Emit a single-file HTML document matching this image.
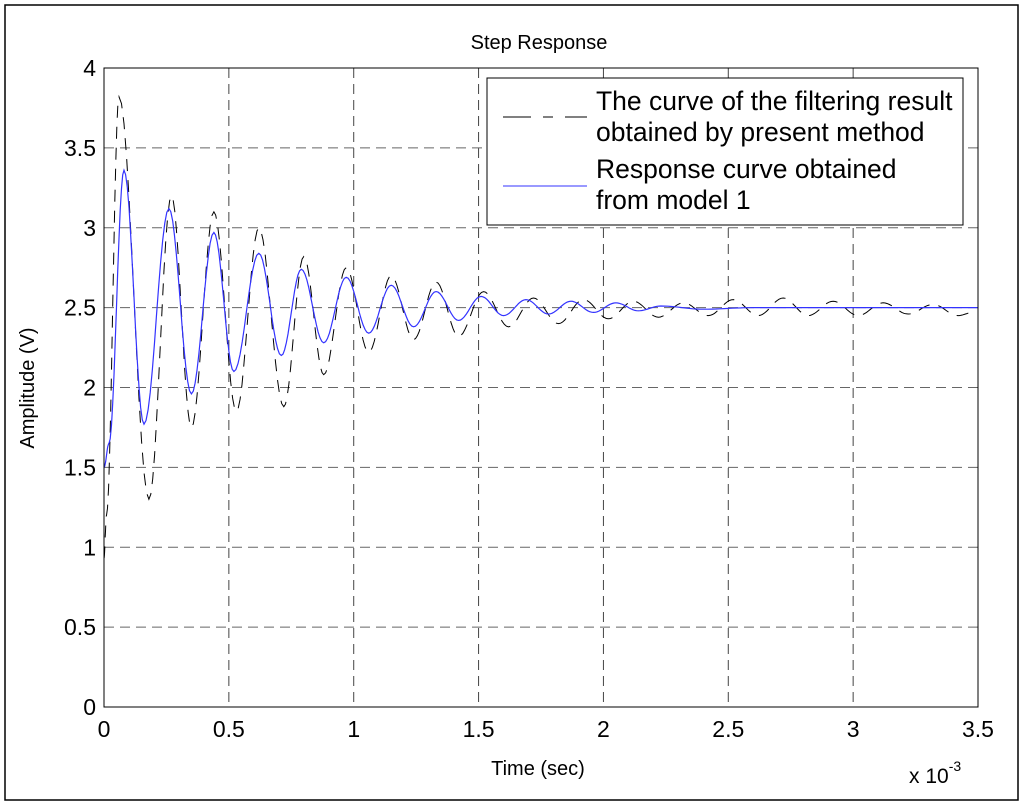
<!DOCTYPE html>
<html><head><meta charset="utf-8"><style>
body{margin:0;background:#fff;}
svg{display:block;font-family:"Liberation Sans",Arial,sans-serif;}
</style></head><body>
<svg id="chart" width="1024" height="807" viewBox="0 0 1024 807">
<rect x="5" y="5" width="1013" height="795" fill="#fff" stroke="#000" stroke-width="1.5"/>
<g id="grid"></g>
<g id="series"></g>
<rect x="104" y="68" width="874" height="639" fill="none" stroke="#000" stroke-width="1"/>
<g id="ticks"></g>
<text x="539" y="49" font-size="20" text-anchor="middle">Step Response</text>
<text x="538" y="775" font-size="20" text-anchor="middle">Time (sec)</text>
<text x="909" y="783" font-size="21">x 10<tspan dy="-12" font-size="14">-3</tspan></text>
<text transform="translate(34,388) rotate(-90)" font-size="20" text-anchor="middle">Amplitude (V)</text>
<g>
<rect x="487" y="78" width="476" height="147" fill="#fff" stroke="#000" stroke-width="1"/>
<line x1="503" y1="117" x2="587" y2="117" stroke="#000" stroke-dasharray="28,12,10,12"/>
<line x1="503" y1="186" x2="587" y2="186" stroke="#3333ff"/>
<text x="596" y="110" font-size="26.5"><tspan x="596">The curve of the filtering result</tspan><tspan x="596" y="141">obtained by present method</tspan></text>
<text x="596" y="178" font-size="26.5"><tspan x="596">Response curve obtained</tspan><tspan x="596" y="209">from model 1</tspan></text>
</g>
</svg>
<script>
const xTicks=[0,0.5,1,1.5,2,2.5,3,3.5];
const yTicks=[0,0.5,1,1.5,2,2.5,3,3.5,4];
const xTickLabels=["0","0.5","1","1.5","2","2.5","3","3.5"];
const yTickLabels=["0","0.5","1","1.5","2","2.5","3","3.5","4"];
const modelT=[0,0.02,0.08,0.16,0.26,0.35,0.44,0.52,0.62,0.71,0.79,0.88,0.97,1.06,1.15,1.24,1.33,1.42,1.51,1.6,1.69,1.78,1.87,1.96,2.05,2.14,2.23,2.4,2.6,2.8,3.0,3.2,3.5];
const modelV=[1.5,1.65,3.36,1.77,3.12,1.96,2.97,2.1,2.84,2.2,2.74,2.28,2.69,2.34,2.64,2.38,2.6,2.42,2.57,2.45,2.55,2.46,2.54,2.47,2.53,2.48,2.51,2.49,2.5,2.5,2.5,2.5,2.5];
const filtT=[0,0.01,0.06,0.18,0.27,0.35,0.44,0.53,0.62,0.72,0.8,0.88,0.97,1.06,1.15,1.24,1.33,1.42,1.52,1.62,1.72,1.82,1.92,2.02,2.12,2.22,2.32,2.42,2.52,2.62,2.72,2.82,2.92,3.02,3.12,3.22,3.32,3.42,3.48];
const filtV=[0.93,1.2,3.82,1.3,3.2,1.75,3.1,1.85,3.0,1.88,2.82,2.08,2.75,2.22,2.7,2.3,2.66,2.32,2.6,2.38,2.56,2.4,2.55,2.43,2.54,2.44,2.53,2.45,2.55,2.45,2.56,2.45,2.54,2.45,2.53,2.46,2.52,2.45,2.47];
const X0=104,X1=978,Y0=707,Y1=68;
const xs=v=>X0+(v/3.5)*(X1-X0);
const ys=v=>Y0-(v/4)*(Y0-Y1);
const NS="http://www.w3.org/2000/svg";
function mk(tag,attrs,parent){const e=document.createElementNS(NS,tag);for(const k in attrs)e.setAttribute(k,attrs[k]);parent.appendChild(e);return e;}
const grid=document.getElementById('grid'),ticks=document.getElementById('ticks'),series=document.getElementById('series');
xTicks.forEach((t,i)=>{
 if(i>0&&i<xTicks.length-1){const g=mk('line',{x1:xs(t),x2:xs(t),y1:Y1,y2:Y0,stroke:'#444','stroke-dasharray':'10,6'},grid);
 
 }
 const l=mk('text',{x:xs(t),y:Y0+30,'font-size':23,'text-anchor':'middle'},ticks);l.textContent=xTickLabels[i];
 
 
});
yTicks.forEach((t,i)=>{
 if(i>0&&i<yTicks.length-1){const g=mk('line',{x1:X0,x2:X1,y1:ys(t),y2:ys(t),stroke:'#666','stroke-dasharray':'10,6'},grid);
 
 }
 const l=mk('text',{x:X0-8,y:ys(t)+8,'font-size':23,'text-anchor':'end'},ticks);l.textContent=yTickLabels[i];
 
 
});
function pathFrom(T,V){
 let d='';
 for(let i=0;i<T.length-1;i++){
  const n=12;
  for(let k=0;k<=n;k++){
   if(i>0&&k===0)continue;
   const f=k/n,s=(1-Math.cos(Math.PI*f))/2;
   const t=T[i]+(T[i+1]-T[i])*f,v=V[i]+(V[i+1]-V[i])*s;
   d+=(d?'L':'M')+xs(t).toFixed(1)+','+ys(v).toFixed(1);
  }
 }
 return d;
}
const fp=mk('path',{d:pathFrom(filtT,filtV),fill:'none',stroke:'#000','stroke-width':1,'stroke-dasharray':'12,9'},series);


const mp=mk('path',{d:pathFrom(modelT,modelV),fill:'none',stroke:'#3333ff','stroke-width':1.2},series);


</script>
</body></html>
